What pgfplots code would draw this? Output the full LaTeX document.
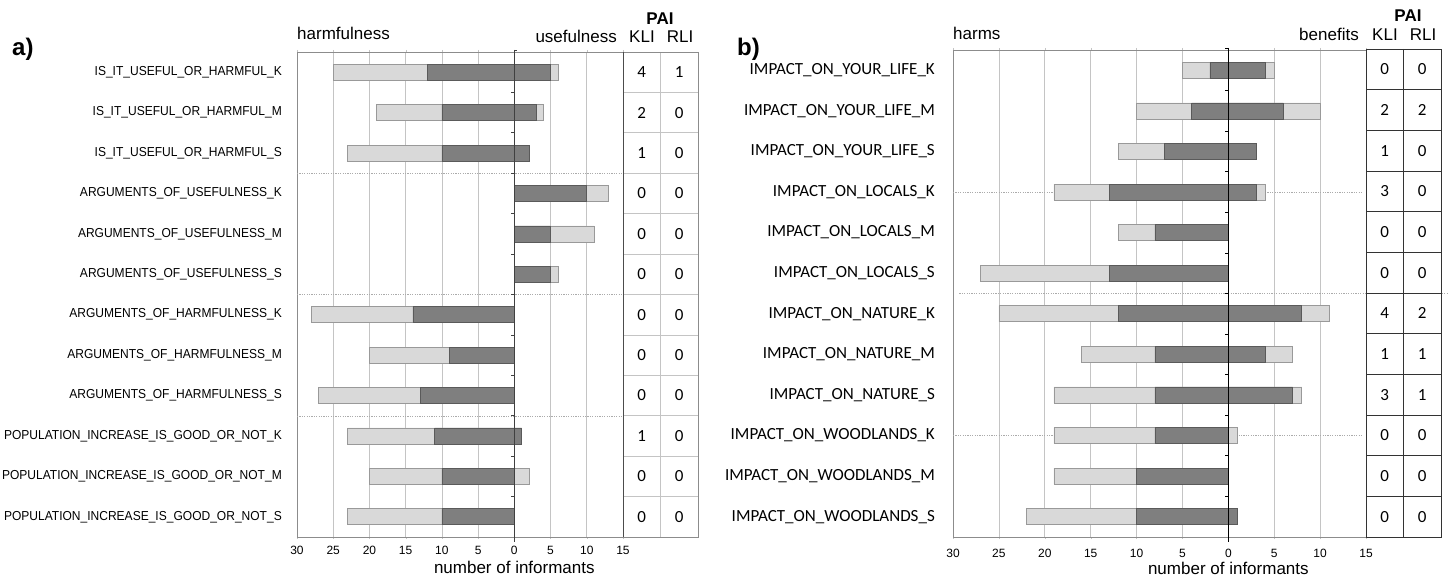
\documentclass[border=0pt]{standalone}
\usepackage{pgfplots}
\pgfplotsset{compat=1.18}
\usepackage{pgfplotstable}
\usepackage{fontspec}
\setmainfont{Liberation Sans}
\newfontfamily\narrowfont[FakeStretch=0.925]{Liberation Sans}
\newfontfamily\calib{Carlito}

\definecolor{lightbar}{HTML}{D9D9D9}
\definecolor{darkbar}{HTML}{7F7F7F}
\definecolor{lightedge}{HTML}{999999}
\definecolor{darkedge}{HTML}{5A5A5A}
\definecolor{gridgray}{HTML}{C4C4C4}
\definecolor{framegray}{HTML}{8C8C8C}
\definecolor{dotgray}{HTML}{ABABAB}

% panel a: light/dark harm, dark/light use
\pgfplotstableread{
y  lh dh du lu
1  25 12 5  6
2  19 10 3  4
3  23 10 2  2
4  0  0  10 13
5  0  0  5  11
6  0  0  5  6
7  28 14 0  0
8  20 9  0  0
9  27 13 0  0
10 23 11 1  1
11 20 10 0  2
12 23 10 0  0
}\dataA

% panel b
\pgfplotstableread{
y  lh dh du lu
1  5  2  4  5
2  10 4  6  10
3  12 7  3  3
4  19 13 3  4
5  12 8  0  0
6  27 13 0  0
7  25 12 8  11
8  16 8  4  7
9  19 8  7  8
10 19 8  0  1
11 19 10 0  0
12 22 10 1  1
}\dataB

% PAI values
\pgfplotstableread{
x   y  v
0.5 1  4
0.5 2  2
0.5 3  1
0.5 4  0
0.5 5  0
0.5 6  0
0.5 7  0
0.5 8  0
0.5 9  0
0.5 10 1
0.5 11 0
0.5 12 0
1.5 1  1
1.5 2  0
1.5 3  0
1.5 4  0
1.5 5  0
1.5 6  0
1.5 7  0
1.5 8  0
1.5 9  0
1.5 10 0
1.5 11 0
1.5 12 0
}\paiA

\pgfplotstableread{
x   y  v
0.5 1  0
0.5 2  2
0.5 3  1
0.5 4  3
0.5 5  0
0.5 6  0
0.5 7  4
0.5 8  1
0.5 9  3
0.5 10 0
0.5 11 0
0.5 12 0
1.5 1  0
1.5 2  2
1.5 3  0
1.5 4  0
1.5 5  0
1.5 6  0
1.5 7  2
1.5 8  1
1.5 9  1
1.5 10 0
1.5 11 0
1.5 12 0
}\paiB

\pgfplotsset{
  barpanel/.style={
    scale only axis, clip=false,
    xmin=-30, xmax=15, ymin=0.5, ymax=12.5, y dir=reverse,
    xtick={-30,-25,...,15}, xticklabels={30,25,20,15,10,5,0,5,10,15},
    ytick={1,...,12},
    xmajorgrids, grid style={gridgray, line width=0.6pt},
    axis line style={framegray, line width=0.6pt},
    tick align=outside, major tick length=2pt,
    xtick style={gridgray},
    ytick style={draw=none},
    xticklabel style={font=\fontsize{12}{14}\selectfont, inner sep=0pt, anchor=base},
    xlabel={number of informants},
    xlabel style={font=\fontsize{17}{20}\selectfont, at={(axis description cs:0.6667,0)}, anchor=base},
    yticklabel style={anchor=east, inner sep=0pt},
    xbar, bar width=16pt, bar shift=0pt,
  },
  lightbars/.style={fill=lightbar, draw=lightedge, line width=0.6pt},
  darkbars/.style={fill=darkbar, draw=darkedge, line width=0.6pt},
  paitable/.style={
    scale only axis, clip=false,
    xmin=0, xmax=2, ymin=0.5, ymax=12.5, y dir=reverse,
    xtick={1}, ytick={1.5,2.5,...,11.5},
    xticklabels={}, yticklabels={}, major tick length=0pt,
    xmajorgrids, ymajorgrids,
  },
}

\begin{document}
\begin{tikzpicture}
\useasboundingbox (0pt,0pt) rectangle (1449pt,577pt);

\node[anchor=base west, inner sep=0pt, font=\bfseries\fontsize{24}{28}\selectfont] at (12pt,521pt) {a)};
\node[anchor=base west, inner sep=0pt, font=\bfseries\fontsize{24}{28}\selectfont] at (737pt,521pt) {b)};

% ---------- panel a ----------
\begin{axis}[barpanel,
    at={(297pt,40pt)}, anchor=south west, width=326pt, height=485pt,
    xticklabel style={yshift=-15pt},
    xlabel style={yshift=-36pt},
    yticklabel style={font=\narrowfont\fontsize{13}{15}\selectfont, xshift=-13pt},
    yticklabels={IS\_IT\_USEFUL\_OR\_HARMFUL\_K,IS\_IT\_USEFUL\_OR\_HARMFUL\_M,IS\_IT\_USEFUL\_OR\_HARMFUL\_S,ARGUMENTS\_OF\_USEFULNESS\_K,ARGUMENTS\_OF\_USEFULNESS\_M,ARGUMENTS\_OF\_USEFULNESS\_S,ARGUMENTS\_OF\_HARMFULNESS\_K,ARGUMENTS\_OF\_HARMFULNESS\_M,ARGUMENTS\_OF\_HARMFULNESS\_S,POPULATION\_INCREASE\_IS\_GOOD\_OR\_NOT\_K,POPULATION\_INCREASE\_IS\_GOOD\_OR\_NOT\_M,POPULATION\_INCREASE\_IS\_GOOD\_OR\_NOT\_S},
  ]
  \draw[dotgray, dash pattern=on 1.2pt off 1.2pt] (axis cs:-30,3.5) -- (axis cs:15,3.5);
  \draw[dotgray, dash pattern=on 1.2pt off 1.2pt] (axis cs:-30,6.5) -- (axis cs:15,6.5);
  \draw[dotgray, dash pattern=on 1.2pt off 1.2pt] (axis cs:-30,9.5) -- (axis cs:15,9.5);
  \addplot[lightbars, x filter/.expression={x==0 ? nan : x}] table[x expr=-\thisrow{lh}, y=y] {\dataA};
  \addplot[lightbars, x filter/.expression={x==0 ? nan : x}] table[x=lu, y=y] {\dataA};
  \addplot[darkbars, x filter/.expression={x==0 ? nan : x}] table[x expr=-\thisrow{dh}, y=y] {\dataA};
  \addplot[darkbars, x filter/.expression={x==0 ? nan : x}] table[x=du, y=y] {\dataA};
  \draw[black!75, line width=1.3pt] (axis cs:0,0.45) -- (axis cs:0,12.62);
  \draw[black!75, line width=0.8pt] (axis cs:0,0.47) -- ++(3pt,0pt);
  \pgfplotsinvokeforeach{1.5,2.5,...,11.5}{\draw[black!75, line width=0.8pt] (axis cs:0,#1) -- ++(-3pt,0pt);}
  \node[anchor=base west, inner sep=0pt, font=\fontsize{17}{20}\selectfont] at ([yshift=12pt]axis description cs:0,1) {harmfulness};
  \node[anchor=base east, inner sep=0pt, font=\fontsize{17}{20}\selectfont] at ([yshift=9pt]axis description cs:0.9816,1) {usefulness};
\end{axis}

\begin{axis}[paitable,
    at={(623pt,40pt)}, anchor=south west, width=75pt, height=485pt,
    grid style={gridgray, line width=0.8pt},
    axis line style={framegray, line width=0.8pt},
  ]
  \addplot[only marks, mark=none, nodes near coords, point meta=explicit symbolic,
    nodes near coords align={center},
    nodes near coords style={font=\calib\fontsize{17}{19}\selectfont, inner sep=0pt, anchor=center}]
    table[x=x, y=y, meta=v] {\paiA};
  \draw[black!70, line width=1pt] (axis description cs:0,0) -- (axis description cs:0,1);
  \node[anchor=base, inner sep=0pt, font=\fontsize{17}{20}\selectfont] at ([yshift=9pt]axis description cs:0.253,1) {KLI};
  \node[anchor=base, inner sep=0pt, font=\fontsize{17}{20}\selectfont] at ([yshift=9pt]axis description cs:0.76,1) {RLI};
  \node[anchor=base, inner sep=0pt, font=\bfseries\fontsize{17}{20}\selectfont] at ([yshift=27pt]axis description cs:0.493,1) {PAI};
\end{axis}

% ---------- panel b ----------
\begin{axis}[barpanel,
    at={(953pt,40pt)}, anchor=south west, width=413pt, height=487pt,
    xticklabel style={yshift=-18pt},
    xlabel style={yshift=-37pt},
    yticklabel style={font=\calib\fontsize{17}{20}\selectfont, xshift=-16pt},
    yticklabels={IMPACT\_ON\_YOUR\_LIFE\_K,IMPACT\_ON\_YOUR\_LIFE\_M,IMPACT\_ON\_YOUR\_LIFE\_S,IMPACT\_ON\_LOCALS\_K,IMPACT\_ON\_LOCALS\_M,IMPACT\_ON\_LOCALS\_S,IMPACT\_ON\_NATURE\_K,IMPACT\_ON\_NATURE\_M,IMPACT\_ON\_NATURE\_S,IMPACT\_ON\_WOODLANDS\_K,IMPACT\_ON\_WOODLANDS\_M,IMPACT\_ON\_WOODLANDS\_S},
  ]
  \draw[dotgray, dash pattern=on 1.2pt off 1.2pt] (axis cs:-30,4) -- (axis cs:14.5,4);
  \draw[dotgray, dash pattern=on 1.2pt off 1.2pt] (axis cs:-29.3,6.5) -- (axis cs:23.9,6.5);
  \draw[dotgray, dash pattern=on 1.2pt off 1.2pt] (axis cs:-30,10) -- (axis cs:14.5,10);
  \addplot[lightbars, x filter/.expression={x==0 ? nan : x}] table[x expr=-\thisrow{lh}, y=y] {\dataB};
  \addplot[lightbars, x filter/.expression={x==0 ? nan : x}] table[x=lu, y=y] {\dataB};
  \addplot[darkbars, x filter/.expression={x==0 ? nan : x}] table[x expr=-\thisrow{dh}, y=y] {\dataB};
  \addplot[darkbars, x filter/.expression={x==0 ? nan : x}] table[x=du, y=y] {\dataB};
  \draw[black, line width=1pt] (axis cs:0,0.45) -- (axis cs:0,12.62);
  \draw[black, line width=0.8pt] (axis cs:0,0.47) -- ++(-3pt,0pt);
  \pgfplotsinvokeforeach{1.5,2.5,...,11.5}{\draw[black, line width=0.8pt] (axis cs:0,#1) -- ++(-3pt,0pt);}
  \node[anchor=base west, inner sep=0pt, font=\fontsize{17}{20}\selectfont] at ([yshift=10pt]axis description cs:0,1) {harms};
  \node[anchor=base east, inner sep=0pt, font=\fontsize{17}{20}\selectfont] at ([yshift=9pt]axis description cs:0.983,1) {benefits};
\end{axis}

\begin{axis}[paitable,
    at={(1366pt,40pt)}, anchor=south west, width=75pt, height=488pt,
    grid style={black!80, line width=0.8pt},
    axis line style={black!80, line width=0.8pt},
  ]
  \addplot[only marks, mark=none, nodes near coords, point meta=explicit symbolic,
    nodes near coords align={center},
    nodes near coords style={font=\calib\fontsize{17}{19}\selectfont, inner sep=0pt, anchor=center}]
    table[x=x, y=y, meta=v] {\paiB};
  \node[anchor=base, inner sep=0pt, font=\fontsize{17}{20}\selectfont] at ([yshift=8pt]axis description cs:0.253,1) {KLI};
  \node[anchor=base, inner sep=0pt, font=\fontsize{17}{20}\selectfont] at ([yshift=8pt]axis description cs:0.76,1) {RLI};
  \node[anchor=base, inner sep=0pt, font=\bfseries\fontsize{17}{20}\selectfont] at ([yshift=27pt]axis description cs:0.56,1) {PAI};
\end{axis}
\end{tikzpicture}
\end{document}
